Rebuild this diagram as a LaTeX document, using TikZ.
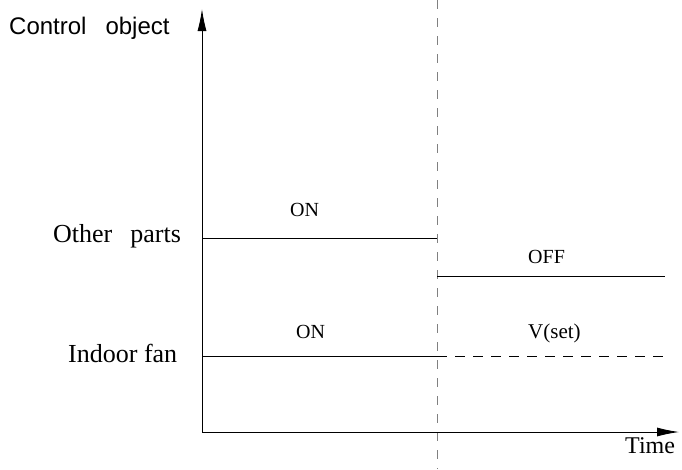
\documentclass[tikz,border=0pt]{standalone}
\usepackage{fontspec}
\setmainfont{Liberation Serif}
\newfontfamily\arialfont{Liberation Sans}
\usetikzlibrary{arrows.meta}

\begin{document}
\begin{tikzpicture}[x=1pt,y=-1pt,
		axis/.style={line width=0.9pt,-{Latex[length=22pt,width=9pt]}},
		level/.style={line width=0.9pt},
		lbl/.style={inner sep=0pt,anchor=base west,font=\fontsize{20}{24}\selectfont},
		side/.style={lbl,font=\fontsize{26}{30}\selectfont},
		seq/.style={gray,line width=0.9pt,dash pattern=on 9pt off 9pt}]
			\useasboundingbox (0,0) rectangle (682,469);
			
			\coordinate (o)at(202,432);
			\coordinate (ytop)at(202,9);
			\coordinate (xend)at(679,432);
			\coordinate (vtop)at(437,0);
			\coordinate (vbot)at(437,469);
			\coordinate (op1)at(202,238);
			\coordinate (op2)at(437,238);
			\coordinate (off1)at(437,276);
			\coordinate (off2)at(665,276);
			\coordinate (if1)at(202,356);
			\coordinate (if2)at(437,356);
			\coordinate (if3)at(665,356);
			
			\node[lbl,font=\arialfont\fontsize{24}{28}\selectfont] (ctl)at(9,34) {Control\hspace{19pt}object};
			\node[side] (oth)at(53,242) {Other\hspace{18pt}parts};
			\node[side] (ind)at(68,362) {Indoor fan};
			\node[lbl] (on1)at(290,216) {ON};
			\node[lbl] (off)at(528,263) {OFF};
			\node[lbl,font=\fontsize{21}{25}\selectfont] (vset)at(528,338) {V(set)};
			\node[lbl] (on2)at(296,338) {ON};
			\node[lbl,font=\fontsize{24}{28}\selectfont] (time)at(625,453) {Time};
			
			\draw[seq] (vtop) -- (vbot);
			\draw[axis] (o) -- (ytop);
			\draw[axis] (o) -- (xend);
			\draw[level] (op1) -- (op2);
			\draw[level] (off1) -- (off2);
			\draw[level] (if1) -- (if2);
			\draw[level,dash pattern=on 10pt off 8pt] (if2) -- (if3);
		\end{tikzpicture}
\end{document}
